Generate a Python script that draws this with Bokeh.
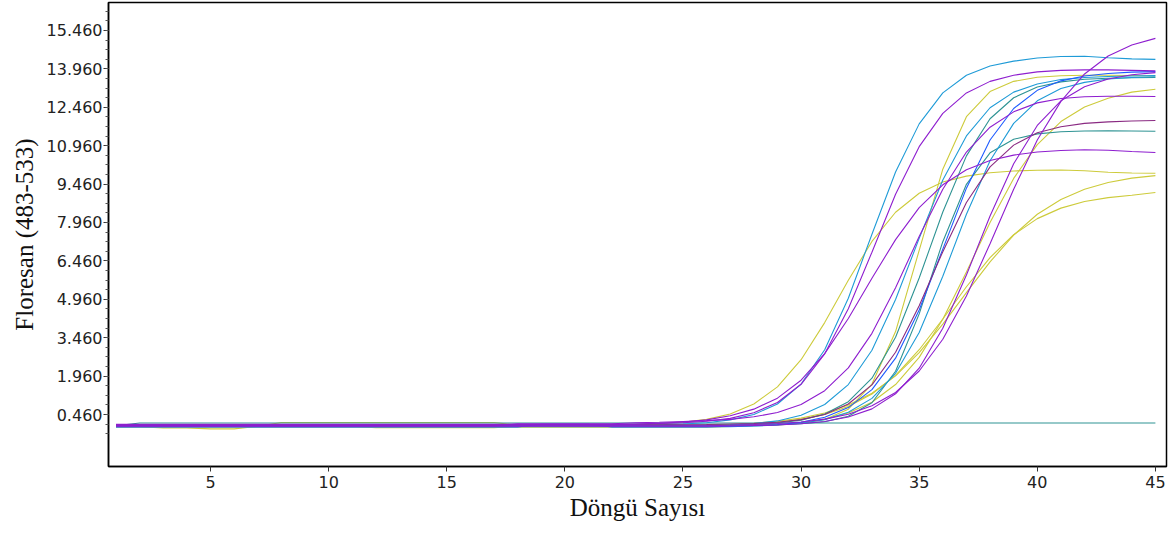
from bokeh.plotting import figure
from bokeh.models import FixedTicker, Range1d, CustomJSTickFormatter
from bokeh.embed import file_html
from bokeh.resources import INLINE

cycles = list(range(1, 46))

CYAN = "#1F9BD7"
PURPLE = "#8E1ECF"
YELLOW = "#CDCB3B"
TEAL = "#2E9393"
BLUE = "#1E5BFF"
MAROON = "#8A2A82"

curve_01 = [0.04, 0.04, 0.04, 0.04, 0.04, 0.04, 0.04, 0.04, 0.04, 0.04, 0.04, 0.04, 0.04, 0.04, 0.04,
            0.04, 0.04, 0.04, 0.04, 0.04, 0.04, 0.04, 0.04,
            0.06, 0.09, 0.14, 0.25, 0.46, 0.87, 1.65, 2.99, 5.0, 7.5, 9.93, 11.81, 13.02, 13.71, 14.07,
            14.26, 14.38, 14.44, 14.45, 14.39, 14.35, 14.33]
curve_02 = [0.08, 0.08, 0.08, 0.08, 0.08, 0.08, 0.08, 0.08, 0.08, 0.08, 0.08, 0.08, 0.08, 0.08, 0.08,
            0.08, 0.08, 0.08, 0.08, 0.08, 0.08, 0.08, 0.08,
            0.11, 0.14, 0.2, 0.31, 0.53, 0.93, 1.64, 2.83, 4.59, 6.8, 9.06, 10.92, 12.22, 13.02, 13.47,
            13.71, 13.84, 13.9, 13.92, 13.92, 13.9, 13.88]
curve_03 = [-0.02, -0.02, -0.06, -0.06, -0.1, -0.1, 0.0, 0.15, 0.15, 0.15, 0.15, 0.15, 0.15, 0.15, 0.15,
            0.15, 0.15, 0.04, 0.04, 0.04, 0.04,
            0.06, 0.07, 0.1, 0.16, 0.27, 0.48, 0.87, 1.54, 2.6, 4.05, 5.7, 7.22, 8.36, 9.1, 9.54, 9.77,
            9.9, 9.97, 10.0, 10.01, 9.98, 9.92, 9.89, 9.88]
curve_04 = [0.06, 0.06, 0.06, 0.06, 0.06, 0.06, 0.06, 0.06, 0.06, 0.06, 0.06, 0.06, 0.06, 0.06, 0.06,
            0.06, 0.06, 0.06, 0.06, 0.06, 0.06, 0.06,
            0.09, 0.12, 0.17, 0.25, 0.41, 0.67, 1.1, 1.8, 2.84, 4.21, 5.78, 7.29, 8.54, 9.43, 10.02,
            10.38, 10.59, 10.71, 10.77, 10.8, 10.78, 10.73, 10.69]
curve_05 = [0.02, 0.02, 0.02, 0.02, 0.02, 0.02, 0.02, 0.02, 0.02, 0.02, 0.02, 0.02, 0.02, 0.02, 0.02,
            0.02, 0.02, 0.1, 0.1, 0.1, 0.1, 0.1,
            0.14, 0.16, 0.19, 0.22, 0.27, 0.37, 0.54, 0.85, 1.39, 2.28, 3.63, 5.41, 7.41, 9.26, 10.71,
            11.68, 12.28, 12.63, 12.8, 12.87, 12.89, 12.89, 12.88]
curve_06 = [0.0, 0.0, 0.0, 0.0, 0.0, 0.0, 0.0, 0.0, 0.0, 0.0, 0.0, 0.0, 0.0, 0.0, 0.0,
            0.0, 0.0, 0.0, 0.0, 0.0, 0.0, 0.0, 0.0, 0.0,
            0.01, 0.03, 0.05, 0.11, 0.21, 0.43, 0.85, 1.63, 2.97, 4.95, 7.34, 9.62, 11.34, 12.44,
            13.05, 13.37, 13.54, 13.62, 13.66, 13.68, 13.7]
curve_07 = [0.02, 0.02, 0.02, 0.02, 0.02, 0.02, 0.02, 0.02, 0.02, 0.02, 0.02, 0.02, 0.02, 0.02, 0.02,
            0.02, 0.02, 0.02, 0.02, 0.02, 0.02, 0.02, 0.02, 0.02, 0.02, 0.02, 0.02,
            0.03, 0.05, 0.11, 0.27, 0.67, 1.65, 3.7, 6.87, 10.04, 12.09, 13.07, 13.47, 13.63, 13.69,
            13.71, 13.71, 13.7, 13.68]
curve_08 = [0.03, 0.03, 0.03, 0.03, 0.03, 0.03, 0.03, 0.03, 0.03, 0.03, 0.03, 0.03, 0.03, 0.03, 0.03,
            0.03, 0.03, 0.03, 0.03, 0.03, 0.03, 0.03, 0.03, 0.03, 0.03,
            0.04, 0.05, 0.08, 0.13, 0.24, 0.48, 0.96, 1.88, 3.48, 5.79, 8.37, 10.56, 12.01, 12.83,
            13.25, 13.45, 13.55, 13.59, 13.61, 13.62]
curve_09 = [-0.03, -0.03, -0.03, -0.03, -0.03, -0.03, -0.03, -0.03, -0.03, -0.03, -0.03, -0.03, -0.03,
            -0.03, -0.03, -0.03, -0.03, -0.03, 0.08, 0.08, 0.08, -0.03, -0.03, -0.03, -0.03, -0.03,
            0.0, 0.02, 0.06, 0.16, 0.35, 0.73, 1.43, 2.66, 4.54, 6.92, 9.3, 11.18, 12.41, 13.12,
            13.49, 13.68, 13.78, 13.83, 13.85]
curve_10 = [0.06, 0.06, 0.06, 0.06, 0.06, 0.06, 0.06, 0.06, 0.06, 0.06, 0.06, 0.06, 0.06, 0.06, 0.06,
            0.06, 0.06, 0.06, 0.06, 0.06, 0.06, 0.06, 0.06, 0.06, 0.06,
            0.07, 0.09, 0.11, 0.16, 0.26, 0.46, 0.87, 1.62, 2.89, 4.71, 6.82, 8.74, 10.13, 10.98,
            11.46, 11.7, 11.83, 11.89, 11.92, 11.94]
curve_11 = [0.05, 0.05, 0.05, 0.05, 0.05, 0.05, 0.05, 0.05, 0.05, 0.05, 0.05, 0.05, 0.05, 0.05, 0.05,
            0.05, 0.05, 0.05, 0.05, 0.05, 0.05, 0.05, 0.05, 0.05, 0.05, 0.05, 0.05, 0.05,
            0.07, 0.1, 0.18, 0.39, 0.92, 2.15, 4.39, 7.21, 9.45, 10.68, 11.21, 11.42, 11.5, 11.53,
            11.54, 11.53, 11.52]
curve_12 = [-0.02, -0.02, -0.02, -0.02, -0.02, -0.02, -0.02, -0.02, -0.02, -0.02, -0.02, -0.02, -0.02,
            -0.02, -0.02, -0.02, -0.02, -0.02, -0.02, -0.02, -0.02, -0.02, -0.02, -0.02, -0.02, -0.02,
            -0.02,
            0.01, 0.05, 0.12, 0.26, 0.55, 1.09, 2.07, 3.66, 5.86, 8.28, 10.37, 11.83, 12.71, 13.19,
            13.43, 13.56, 13.62, 13.65]
curve_13 = [-0.04, -0.04, -0.04, -0.04, -0.04, -0.04, -0.04, -0.04, -0.04, -0.04, -0.04, -0.04, -0.04,
            -0.04, -0.04, -0.04, -0.04, -0.04, -0.04, -0.04, -0.04, -0.04, -0.04, -0.04, -0.04, -0.04,
            -0.01, 0.02, 0.06, 0.14, 0.28, 0.52, 0.94, 1.63, 2.69, 4.18, 6.03, 7.96, 9.68, 11.0,
            11.9, 12.47, 12.81, 13.05, 13.16]
curve_14 = [0.0, 0.0, 0.0, 0.0, 0.0, 0.0, 0.0, 0.0, 0.0, 0.0, 0.0, 0.0, 0.0, 0.0, 0.0,
            0.0, 0.0, 0.0, 0.0, 0.0, 0.0, 0.0, 0.0, 0.0, 0.0, 0.0,
            0.01, 0.03, 0.05, 0.1, 0.19, 0.36, 0.68, 1.27, 2.27, 3.83, 5.91, 8.21, 10.25, 11.75,
            12.71, 13.26, 13.56, 13.73, 13.81]
curve_15 = [0.02, 0.02, 0.02, 0.02, 0.02, 0.02, 0.02, 0.02, 0.02, 0.02, 0.02, 0.02, 0.02, 0.02, 0.02,
            0.02, 0.02, 0.02, 0.02, 0.02, 0.02, 0.02, 0.02, 0.02, 0.02, 0.02,
            0.04, 0.07, 0.11, 0.17, 0.28, 0.47, 0.8, 1.32, 2.16, 3.4, 5.09, 7.13, 9.26, 11.18,
            12.69, 13.76, 14.46, 14.89, 15.15]
curve_16 = [0.0, 0.0, 0.0, 0.0, 0.0, 0.0, 0.0, 0.0, 0.0, 0.0, 0.0, 0.0, 0.0, 0.0, 0.0,
            0.0, 0.0, 0.0, 0.0, 0.0, 0.0, 0.0, 0.0, 0.0,
            0.02, 0.04, 0.07, 0.12, 0.2, 0.32, 0.52, 0.83, 1.29, 1.97, 2.88, 3.99, 5.22, 6.42,
            7.47, 8.28, 8.86, 9.26, 9.52, 9.69, 9.79]
curve_17 = [0.0, 0.0, 0.0, 0.0, 0.0, 0.0, 0.0, 0.0, 0.0, 0.0, 0.0, -0.05, -0.05, -0.05, -0.05,
            -0.05, -0.05, 0.0, 0.0, 0.0, 0.0, 0.0, 0.0, 0.0, 0.0,
            0.03, 0.05, 0.09, 0.16, 0.27, 0.46, 0.77, 1.26, 1.99, 2.99, 4.19, 5.45, 6.59, 7.48,
            8.11, 8.52, 8.78, 8.93, 9.02, 9.13]
negative_control = [0.02, 0.13, 0.13, 0.13, 0.13, 0.13, 0.13, 0.13, 0.13, 0.13, 0.13, 0.13, 0.13, 0.13,
                    0.13, 0.13, 0.13, 0.13, 0.13, 0.13, 0.13, 0.13, 0.13, 0.13, 0.13, 0.13, 0.13, 0.13,
                    0.13, 0.13, 0.13, 0.13, 0.13, 0.13, 0.13, 0.13, 0.13, 0.13, 0.13, 0.13, 0.13, 0.13,
                    0.13, 0.13, 0.13]

series = [
    (curve_17, YELLOW), (curve_16, YELLOW), (curve_13, YELLOW), (curve_07, YELLOW), (curve_03, YELLOW),
    (negative_control, TEAL),
    (curve_11, TEAL), (curve_08, TEAL),
    (curve_12, CYAN), (curve_06, CYAN), (curve_01, CYAN),
    (curve_09, BLUE),
    (curve_10, MAROON),
    (curve_15, PURPLE), (curve_14, PURPLE), (curve_05, PURPLE), (curve_04, PURPLE), (curve_02, PURPLE),
]

y_ticks = [0.46, 1.96, 3.46, 4.96, 6.46, 7.96, 9.46, 10.96, 12.46, 13.96, 15.46]
x_ticks = [5, 10, 15, 20, 25, 30, 35, 40, 45]

p = figure(width=1176, height=533, output_backend="svg", toolbar_location=None,
           x_range=Range1d(0.68, 45.47), y_range=Range1d(-1.57, 16.55),
           min_border_left=108, min_border_right=10, min_border_top=2, min_border_bottom=67)
p.xgrid.visible = False
p.ygrid.visible = False
p.outline_line_color = "black"
p.outline_line_width = 1.5
p.background_fill_color = "white"
p.border_fill_color = "white"

for ys, col in series:
    p.line(cycles, ys, line_color=col, line_width=1.1)

minor = [t + k * 0.375 for t in [-0.29] for k in range(0, 45)]
p.yaxis.ticker = FixedTicker(ticks=y_ticks, minor_ticks=[m for m in minor if m < 16.3])
p.yaxis.formatter = CustomJSTickFormatter(code="return tick.toFixed(3);")
p.xaxis.ticker = FixedTicker(ticks=x_ticks, minor_ticks=[])

for ax in (p.xaxis, p.yaxis):
    ax.axis_line_color = "black"
    ax.axis_line_width = 1.5
    ax.major_tick_line_color = "#333333"
    ax.minor_tick_line_color = "#555555"
    ax.major_tick_in = 0
    ax.major_tick_out = 5
    ax.minor_tick_in = 0
    ax.minor_tick_out = 3
    ax.major_label_text_font = "DejaVu Sans"
    ax.major_label_text_font_size = "16px"
    ax.major_label_text_color = "#222222"
    ax.axis_label_text_font = "Liberation Serif"
    ax.axis_label_text_font_size = "25px"
    ax.axis_label_text_font_style = "normal"
    ax.axis_label_text_color = "#111111"

p.yaxis.major_label_standoff = 1
p.xaxis.major_label_standoff = 4
p.xaxis.axis_label = "Döngü Sayısı"
p.yaxis.axis_label = "Floresan (483-533)"
p.xaxis.axis_label_standoff = 3
p.yaxis.axis_label_standoff = 6

open("out.html", "w").write(file_html(p, INLINE))
